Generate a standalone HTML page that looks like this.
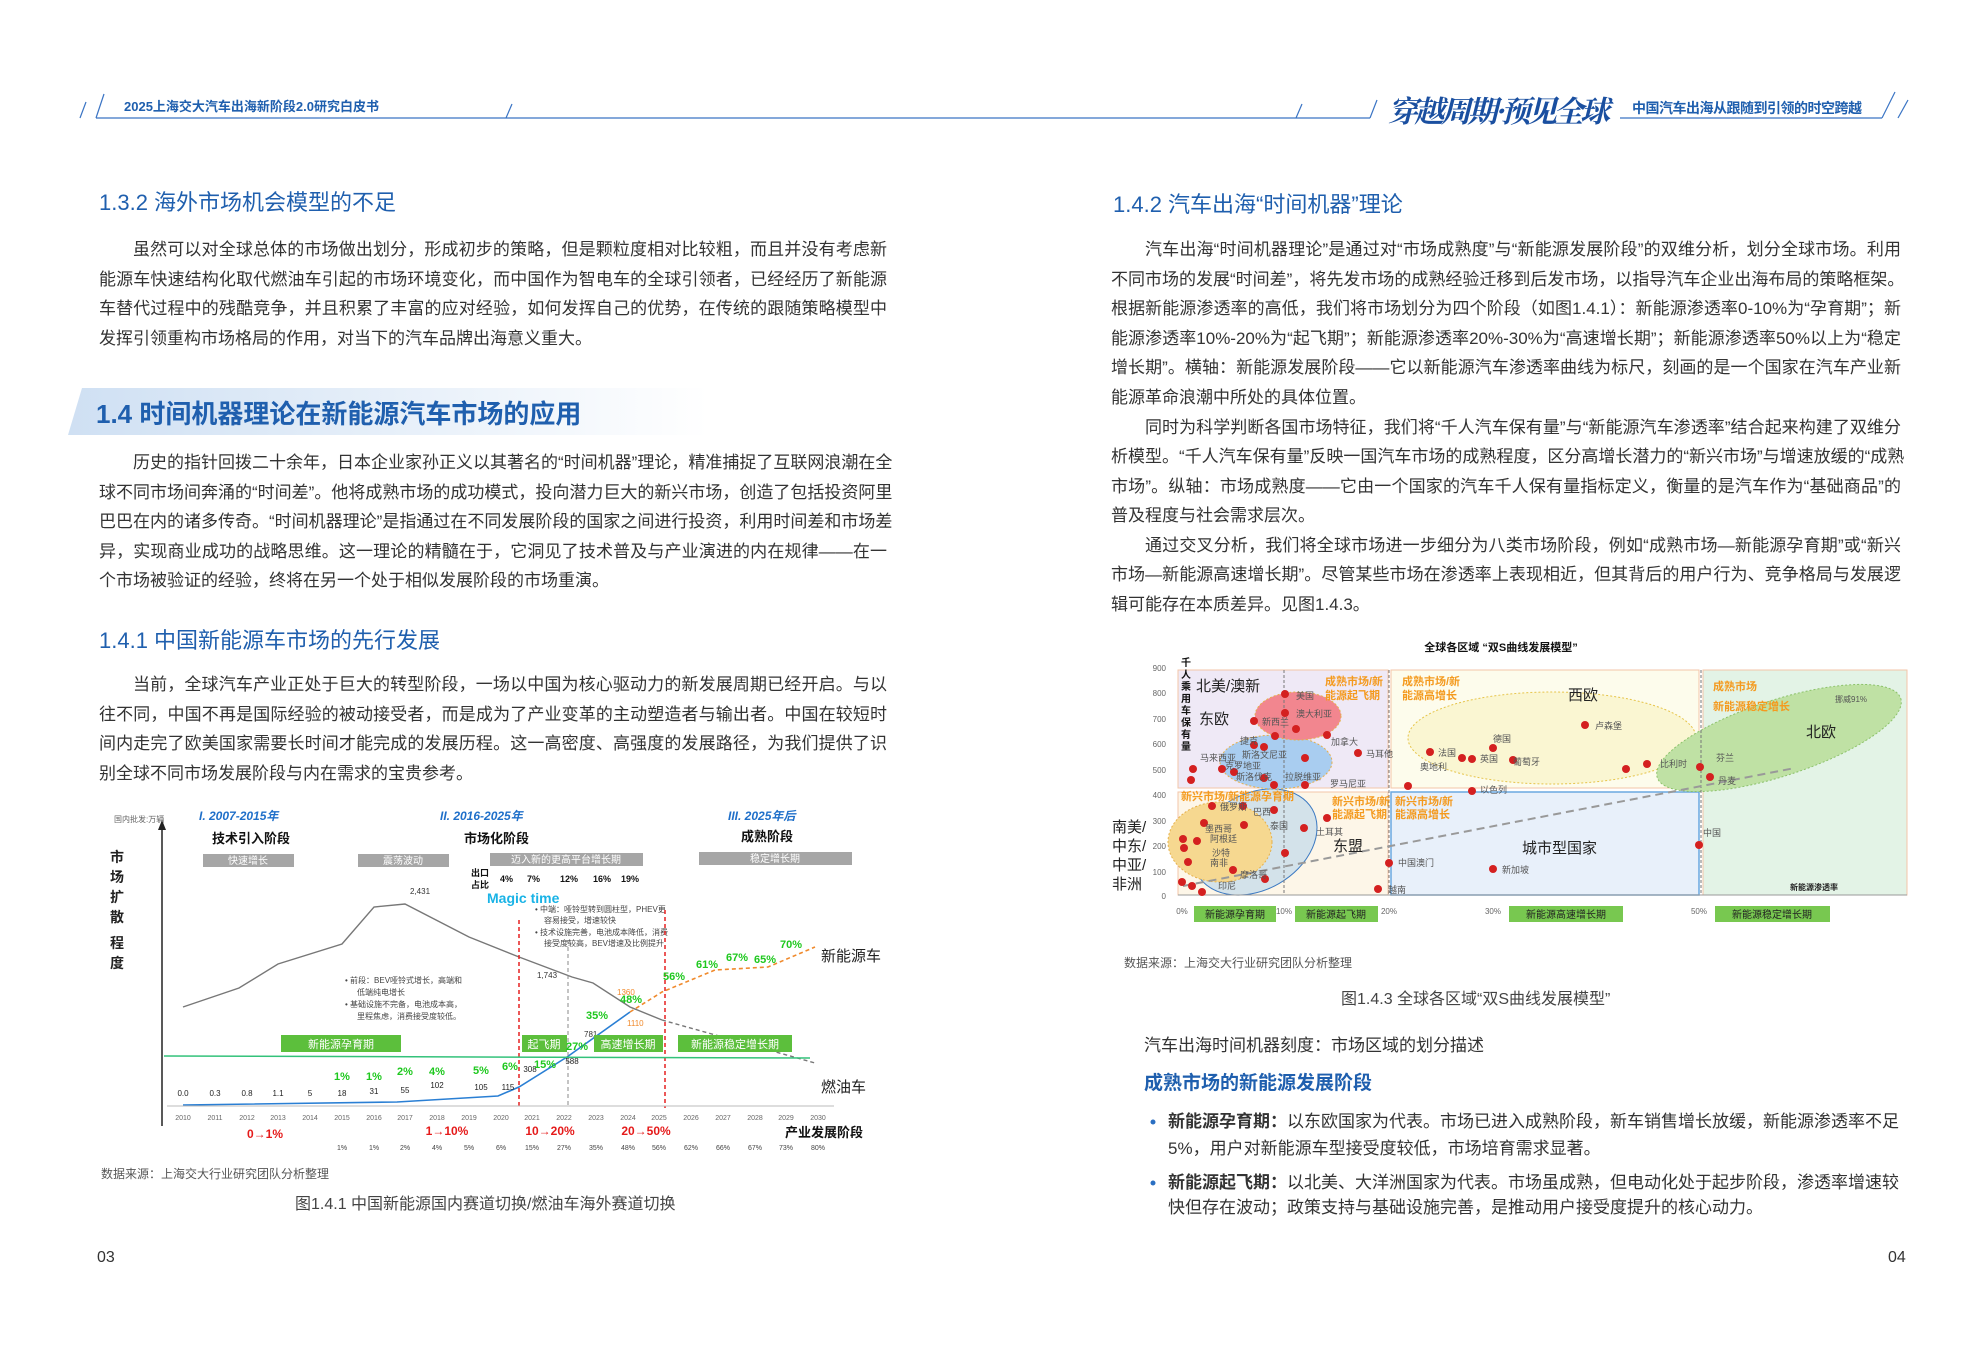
<!DOCTYPE html>
<html><head><meta charset="utf-8">
<style>
*{margin:0;padding:0;box-sizing:border-box}
body{width:1984px;height:1346px;background:#fff;position:relative;overflow:hidden;font-family:"Liberation Sans","Noto Sans CJK SC",sans-serif;color:#333}
.ln{position:absolute;white-space:nowrap;font-size:17px;line-height:24px;text-align:justify;text-align-last:justify;height:24px;overflow:visible}
.lf{width:788px;left:99px}
.rt{width:790px;left:1111px}
.last{text-align-last:left}
.ind{text-indent:34px}
.h2{position:absolute;color:#1f5fae;font-size:22px;line-height:28px;white-space:nowrap}
svg{position:absolute;left:0;top:0}
</style></head><body>

<div style="position:absolute;left:68px;top:388px;width:640px;height:47px;background:linear-gradient(90deg,#cfe0f3 0%,#e6eff9 50%,#ffffff 100%);clip-path:polygon(14px 0,100% 0,100% 100%,0 100%)"></div>

<svg width="1984" height="1346" viewBox="0 0 1984 1346" font-family="Liberation Sans, Noto Sans CJK SC, sans-serif">
<g stroke="#3a74c4" stroke-width="1.2" fill="none">
<line x1="80" y1="118" x2="86" y2="102"/><line x1="96" y1="118" x2="104" y2="94"/>
<line x1="96" y1="118" x2="1370" y2="118"/>
<line x1="506" y1="118" x2="512" y2="104"/>
<line x1="1296" y1="118" x2="1302" y2="104"/>
<line x1="1370" y1="118" x2="1377" y2="100"/>
<line x1="1620" y1="118" x2="1882" y2="118"/>
<line x1="1882" y1="118" x2="1895" y2="92"/><line x1="1898" y1="118" x2="1908" y2="100"/>
</g>
<text x="124" y="111" font-size="13" fill="#1f5fae" font-weight="bold">2025上海交大汽车出海新阶段2.0研究白皮书</text>
<text x="1388" y="122" font-size="30" fill="#1a4fa0" font-weight="bold" font-style="italic" font-family="Noto Serif CJK SC, serif" textLength="222">穿越周期·预见全球</text>
<text x="1632" y="113" font-size="14" fill="#1f5fae" font-weight="bold" textLength="230">中国汽车出海从跟随到引领的时空跨越</text>

<!-- LEFT CHART -->
<text x="114" y="822" font-size="8" fill="#666">国内批发:万辆</text>
<line x1="162" y1="825" x2="162" y2="1126" stroke="#222" stroke-width="1.5"/>
<path d="M158,830 L162,820 L166,830Z" fill="#222"/>
<g font-size="14" font-weight="bold" fill="#222">
<text x="110" y="862">市</text><text x="110" y="882">场</text><text x="110" y="902">扩</text><text x="110" y="922">散</text><text x="110" y="948">程</text><text x="110" y="968">度</text>
</g>
<g font-size="12" fill="#1f6fc9" font-style="italic" font-weight="bold">
<text x="199" y="820">I.  2007-2015年</text><text x="440" y="820">II.  2016-2025年</text><text x="728" y="820">III.  2025年后</text>
</g>
<g font-size="13" font-weight="bold" fill="#111">
<text x="212" y="843">技术引入阶段</text><text x="464" y="843">市场化阶段</text><text x="741" y="841">成熟阶段</text>
</g>
<g fill="#a6a6a6"><rect x="203" y="854" width="91" height="13"/><rect x="358" y="854" width="91" height="13"/><rect x="490" y="853" width="153" height="13"/><rect x="699" y="852" width="153" height="13"/></g>
<g font-size="10" fill="#fff" text-anchor="middle">
<text x="248" y="864">快速增长</text><text x="403" y="864">震荡波动</text><text x="566" y="863">迈入新的更高平台增长期</text><text x="775" y="862">稳定增长期</text>
</g>
<g font-size="9" fill="#111" font-weight="bold"><text x="471" y="876">出口</text><text x="471" y="888">占比</text>
<text x="500" y="882">4%</text><text x="527" y="882">7%</text><text x="560" y="882">12%</text><text x="593" y="882">16%</text><text x="621" y="882">19%</text></g>
<text x="487" y="903" font-size="14" fill="#19b3e6" font-weight="bold">Magic time</text>
<g font-size="8" fill="#444">
<text x="535" y="912">• 中端：哑铃型转到圆柱型，PHEV更</text><text x="544" y="923">容易接受，增速较快</text>
<text x="535" y="935">• 技术设施完善，电池成本降低，消费</text><text x="544" y="946">接受度较高，BEV增速及比例提升</text>
<text x="345" y="983">• 前段：BEV哑铃式增长，高端和</text><text x="357" y="995">低端纯电增长</text>
<text x="345" y="1007">• 基础设施不完备，电池成本高，</text><text x="357" y="1019">里程焦虑，消费接受度较低。</text>
</g>
<text x="410" y="894" font-size="8" fill="#333">2,431</text>
<text x="537" y="978" font-size="8" fill="#333">1,743</text>
<text x="584" y="1037" font-size="8" fill="#333">781</text>
<polyline points="183,1007 239,988 278,964 342,944 374,907 405,904 469,937 519,957 572,977 593,983 630,1007 662,1020" fill="none" stroke="#777" stroke-width="1.4"/>
<polyline points="662,1020 815,1063" fill="none" stroke="#777" stroke-width="1.4" stroke-dasharray="4,3"/>
<polyline points="183,1105 397,1102 498,1096 519,1087 567,1057 630,1012" fill="none" stroke="#2a7fd4" stroke-width="1.6"/>
<polyline points="630,1012 662,992 715,970 768,967 815,947" fill="none" stroke="#f08a2c" stroke-width="1.6" stroke-dasharray="4,3"/>
<g stroke="#e52020" stroke-width="1.5" stroke-dasharray="4,3"><line x1="519" y1="920" x2="519" y2="1108"/><line x1="665" y1="910" x2="665" y2="1108"/></g>
<line x1="568" y1="940" x2="568" y2="1108" stroke="#888" stroke-dasharray="4,3"/>
<line x1="164" y1="1056" x2="810" y2="1058" stroke="#33c27a" stroke-width="1.5"/>
<g fill="#5cbf3c"><rect x="281" y="1035" width="120" height="17"/><rect x="522" y="1035" width="45" height="17"/><rect x="594" y="1035" width="69" height="17"/><rect x="678" y="1035" width="114" height="17"/></g>
<g font-size="11" fill="#fff" text-anchor="middle">
<text x="341" y="1048">新能源孕育期</text><text x="544" y="1048">起飞期</text><text x="628" y="1048">高速增长期</text><text x="735" y="1048">新能源稳定增长期</text>
</g>
<text x="821" y="961" font-size="15" fill="#222">新能源车</text>
<text x="821" y="1092" font-size="15" fill="#222">燃油车</text>
<text x="617" y="995" font-size="8" fill="#f08a2c">1360</text>
<text x="627" y="1026" font-size="8" fill="#f08a2c">1110</text>
<line x1="167" y1="1106" x2="834" y2="1106" stroke="#bbb"/>
<g font-size="7" fill="#666" text-anchor="middle">
<text x="183" y="1120">2010</text><text x="215" y="1120">2011</text><text x="247" y="1120">2012</text><text x="278" y="1120">2013</text><text x="310" y="1120">2014</text><text x="342" y="1120">2015</text><text x="374" y="1120">2016</text><text x="405" y="1120">2017</text><text x="437" y="1120">2018</text><text x="469" y="1120">2019</text><text x="501" y="1120">2020</text><text x="532" y="1120">2021</text><text x="564" y="1120">2022</text><text x="596" y="1120">2023</text><text x="628" y="1120">2024</text><text x="659" y="1120">2025</text><text x="691" y="1120">2026</text><text x="723" y="1120">2027</text><text x="755" y="1120">2028</text><text x="786" y="1120">2029</text><text x="818" y="1120">2030</text>
</g>
<g font-size="8" fill="#222" text-anchor="middle">
<text x="183" y="1096">0.0</text><text x="215" y="1096">0.3</text><text x="247" y="1096">0.8</text><text x="278" y="1096">1.1</text><text x="310" y="1096">5</text><text x="342" y="1096">18</text><text x="374" y="1094">31</text><text x="405" y="1093">55</text><text x="437" y="1088">102</text><text x="481" y="1090">105</text><text x="508" y="1090">115</text><text x="530" y="1072">308</text><text x="572" y="1064">588</text>
</g>
<g font-size="11" fill="#1ec81e" font-weight="bold" text-anchor="middle">
<text x="342" y="1080">1%</text><text x="374" y="1080">1%</text><text x="405" y="1075">2%</text><text x="437" y="1075">4%</text><text x="481" y="1074">5%</text><text x="510" y="1070">6%</text><text x="545" y="1068">15%</text><text x="577" y="1050">27%</text><text x="597" y="1019">35%</text><text x="631" y="1003">48%</text><text x="674" y="980">56%</text><text x="707" y="968">61%</text><text x="737" y="961">67%</text><text x="765" y="963">65%</text><text x="791" y="948">70%</text>
</g>
<g font-size="12" fill="#e51a1a" font-weight="bold" text-anchor="middle">
<text x="265" y="1138">0→1%</text><text x="447" y="1135">1→10%</text><text x="550" y="1135">10→20%</text><text x="646" y="1135">20→50%</text>
</g>
<text x="785" y="1137" font-size="13" font-weight="bold" fill="#111">产业发展阶段</text>
<g font-size="7" fill="#444" text-anchor="middle">
<text x="342" y="1150">1%</text><text x="374" y="1150">1%</text><text x="405" y="1150">2%</text><text x="437" y="1150">4%</text><text x="469" y="1150">5%</text><text x="501" y="1150">6%</text><text x="532" y="1150">15%</text><text x="564" y="1150">27%</text><text x="596" y="1150">35%</text><text x="628" y="1150">48%</text><text x="659" y="1150">56%</text><text x="691" y="1150">62%</text><text x="723" y="1150">66%</text><text x="755" y="1150">67%</text><text x="786" y="1150">73%</text><text x="818" y="1150">80%</text>
</g>
<text x="101" y="1178" font-size="12" fill="#555">数据来源：上海交大行业研究团队分析整理</text>
<text x="295" y="1209" font-size="16" fill="#444">图1.4.1 中国新能源国内赛道切换/燃油车海外赛道切换</text>

<!-- RIGHT CHART -->
<text x="1501" y="651" font-size="11" font-weight="bold" fill="#111" text-anchor="middle">全球各区域 “双S曲线发展模型”</text>
<rect x="1178" y="670" width="210" height="118" fill="#efe9f6" stroke="#f3c6a8"/>
<rect x="1391" y="670" width="308" height="118" fill="#fdfcec" stroke="#f3c6a8"/>
<rect x="1703" y="670" width="204" height="225" fill="#e3f3e6" stroke="#f3c6a8"/>
<rect x="1178" y="792" width="210" height="103" fill="#fdf6e8" stroke="#f3c6a8"/>
<rect x="1391" y="792" width="308" height="103" fill="#e8f0fa" stroke="#6aa8e0" stroke-width="1.5"/>
<ellipse cx="1552" cy="738" rx="144" ry="46" fill="#faf6d2" stroke="#e6c44a" stroke-dasharray="2,2"/>
<ellipse cx="1779" cy="738" rx="128" ry="38" transform="rotate(-18 1779 738)" fill="#bfe1a4" stroke="#8cc26a" stroke-dasharray="2,2"/>
<ellipse cx="1255" cy="842" rx="66" ry="48" transform="rotate(-30 1255 842)" fill="#d3e2ea" stroke="#3b79c2"/>
<ellipse cx="1220" cy="842" rx="52" ry="40" fill="#f6d890" stroke="#e6b04a" stroke-dasharray="2,2"/>
<ellipse cx="1276" cy="762" rx="56" ry="27" fill="#a9cdf0" stroke="#e6b04a" stroke-dasharray="2,2"/>
<ellipse cx="1298" cy="716" rx="43" ry="24" fill="#f2868f" stroke="#e6b04a" stroke-dasharray="2,2"/>
<line x1="1284" y1="670" x2="1284" y2="895" stroke="#777" stroke-dasharray="3,2"/>
<line x1="1389" y1="670" x2="1389" y2="895" stroke="#777" stroke-dasharray="3,2"/>
<line x1="1701" y1="670" x2="1701" y2="895" stroke="#777" stroke-dasharray="3,2"/>
<line x1="1183" y1="886" x2="1795" y2="768" stroke="#999" stroke-width="2" stroke-dasharray="8,5"/>
<line x1="1178" y1="895" x2="1907" y2="895" stroke="#999"/>
<g font-size="8" fill="#666" text-anchor="end">
<text x="1166" y="671">900</text><text x="1166" y="696">800</text><text x="1166" y="722">700</text><text x="1166" y="747">600</text><text x="1166" y="773">500</text><text x="1166" y="798">400</text><text x="1166" y="824">300</text><text x="1166" y="849">200</text><text x="1166" y="875">100</text><text x="1166" y="899">0</text>
</g>
<g font-size="10" font-weight="bold" fill="#111"><text x="1181" y="666">千</text><text x="1181" y="678">人</text><text x="1181" y="690">乘</text><text x="1181" y="702">用</text><text x="1181" y="714">车</text><text x="1181" y="726">保</text><text x="1181" y="738">有</text><text x="1181" y="750">量</text></g>
<g font-size="15" fill="#222"><text x="1112" y="832">南美/</text><text x="1112" y="851">中东/</text><text x="1112" y="870">中亚/</text><text x="1112" y="889">非洲</text></g>
<g font-size="8" fill="#666" text-anchor="middle"><text x="1182" y="914">0%</text><text x="1284" y="914">10%</text><text x="1389" y="914">20%</text><text x="1493" y="914">30%</text><text x="1699" y="914">50%</text></g>
<g fill="#78c850"><rect x="1194" y="906" width="82" height="16"/><rect x="1295" y="906" width="83" height="16"/><rect x="1509" y="906" width="114" height="16"/><rect x="1715" y="906" width="115" height="16"/></g>
<g font-size="10" fill="#222" text-anchor="middle"><text x="1235" y="918">新能源孕育期</text><text x="1336" y="918">新能源起飞期</text><text x="1566" y="918">新能源高速增长期</text><text x="1772" y="918">新能源稳定增长期</text></g>
<g font-size="15" fill="#222"><text x="1196" y="691">北美/澳新</text><text x="1199" y="724">东欧</text><text x="1568" y="700">西欧</text><text x="1806" y="737">北欧</text><text x="1333" y="851">东盟</text><text x="1522" y="853">城市型国家</text></g>
<g font-size="11" fill="#f49a1e" font-weight="bold">
<text x="1325" y="685">成熟市场/新</text><text x="1325" y="699">能源起飞期</text>
<text x="1402" y="685">成熟市场/新</text><text x="1402" y="699">能源高增长</text>
<text x="1713" y="690">成熟市场</text><text x="1713" y="710">新能源稳定增长</text>
<text x="1181" y="800">新兴市场/新能源孕育期</text>
<text x="1332" y="805">新兴市场/新</text><text x="1332" y="818">能源起飞期</text>
<text x="1395" y="805">新兴市场/新</text><text x="1395" y="818">能源高增长</text>
</g>
<g fill="#d42020">
<circle cx="1285" cy="694" r="4"/><circle cx="1285" cy="713" r="4"/><circle cx="1254" cy="721" r="4"/><circle cx="1296" cy="729" r="4"/><circle cx="1327" cy="735" r="4"/><circle cx="1358" cy="753" r="4"/><circle cx="1275" cy="736" r="4"/><circle cx="1254" cy="745" r="4"/><circle cx="1264" cy="747" r="4"/><circle cx="1305" cy="758" r="4"/><circle cx="1193" cy="769" r="4"/><circle cx="1222" cy="769" r="4"/><circle cx="1234" cy="772" r="4"/><circle cx="1191" cy="780" r="4"/><circle cx="1264" cy="778" r="4"/><circle cx="1274" cy="785" r="4"/><circle cx="1305" cy="785" r="4"/><circle cx="1408" cy="786" r="4"/><circle cx="1472" cy="791" r="4"/>
<circle cx="1430" cy="752" r="4"/><circle cx="1462" cy="758" r="4"/><circle cx="1472" cy="759" r="4"/><circle cx="1493" cy="748" r="4"/><circle cx="1513" cy="760" r="4"/><circle cx="1585" cy="725" r="4"/><circle cx="1626" cy="769" r="4"/><circle cx="1647" cy="764" r="4"/><circle cx="1700" cy="767" r="4"/><circle cx="1710" cy="777" r="4"/>
<circle cx="1212" cy="806" r="4"/><circle cx="1243" cy="806" r="4"/><circle cx="1274" cy="810" r="4"/><circle cx="1327" cy="818" r="4"/><circle cx="1304" cy="828" r="4"/><circle cx="1204" cy="823" r="4"/><circle cx="1244" cy="825" r="4"/><circle cx="1183" cy="839" r="4"/><circle cx="1197" cy="841" r="4"/><circle cx="1184" cy="848" r="4"/><circle cx="1188" cy="862" r="4"/><circle cx="1233" cy="870" r="4"/><circle cx="1265" cy="879" r="4"/><circle cx="1182" cy="882" r="4"/><circle cx="1192" cy="886" r="4"/><circle cx="1202" cy="892" r="4"/><circle cx="1285" cy="853" r="4"/><circle cx="1378" cy="889" r="4"/><circle cx="1389" cy="863" r="4"/><circle cx="1493" cy="869" r="4"/><circle cx="1699" cy="845" r="4"/>
</g>
<g font-size="9" fill="#555">
<text x="1296" y="699">美国</text><text x="1296" y="717">澳大利亚</text><text x="1262" y="725">新西兰</text><text x="1331" y="745">加拿大</text><text x="1366" y="757">马耳他</text><text x="1240" y="744">捷克</text><text x="1242" y="758">斯洛文尼亚</text><text x="1200" y="761">马来西亚</text><text x="1225" y="769">克罗地亚</text><text x="1236" y="780">斯洛伐克</text><text x="1285" y="780">拉脱维亚</text><text x="1330" y="787">罗马尼亚</text>
<text x="1438" y="756">法国</text><text x="1480" y="762">英国</text><text x="1493" y="742">德国</text><text x="1513" y="765">葡萄牙</text><text x="1595" y="729">卢森堡</text><text x="1420" y="770">奥地利</text><text x="1660" y="767">比利时</text><text x="1716" y="761">芬兰</text><text x="1718" y="784">丹麦</text><text x="1835" y="702" font-size="8">挪威91%</text><text x="1480" y="793">以色列</text>
<text x="1220" y="810">俄罗斯</text><text x="1253" y="815">巴西</text><text x="1270" y="829">泰国</text><text x="1316" y="835">土耳其</text><text x="1205" y="832">墨西哥</text><text x="1210" y="842">阿根廷</text><text x="1212" y="856">沙特</text><text x="1210" y="866">南非</text><text x="1240" y="878">摩洛哥</text><text x="1218" y="889">印尼</text><text x="1398" y="866">中国澳门</text><text x="1502" y="873">新加坡</text><text x="1703" y="836">中国</text><text x="1388" y="893">越南</text>
</g>
<text x="1790" y="890" font-size="8" font-weight="bold" fill="#222">新能源渗透率</text>
<text x="1124" y="967" font-size="12" fill="#555">数据来源：上海交大行业研究团队分析整理</text>
<text x="1341" y="1004" font-size="16" fill="#444">图1.4.3  全球各区域“双S曲线发展模型”</text>
<circle cx="1153" cy="1122" r="2.5" fill="#2a6fc2"/>
<circle cx="1153" cy="1183" r="2.5" fill="#2a6fc2"/>
</svg>

<div class="h2" style="left:99px;top:189px">1.3.2 海外市场机会模型的不足</div>
<div class="h2" style="left:96px;top:399px;font-size:26px;font-weight:bold;line-height:30px">1.4 时间机器理论在新能源汽车市场的应用</div>
<div class="h2" style="left:99px;top:627px">1.4.1 中国新能源车市场的先行发展</div>
<div class="h2" style="left:1113px;top:191px">1.4.2 汽车出海“时间机器”理论</div>

<div class="ln lf ind" style="top:238px">虽然可以对全球总体的市场做出划分，形成初步的策略，但是颗粒度相对比较粗，而且并没有考虑新</div>
<div class="ln lf" style="top:268px">能源车快速结构化取代燃油车引起的市场环境变化，而中国作为智电车的全球引领者，已经经历了新能源</div>
<div class="ln lf" style="top:297px">车替代过程中的残酷竞争，并且积累了丰富的应对经验，如何发挥自己的优势，在传统的跟随策略模型中</div>
<div class="ln lf last" style="top:327px">发挥引领重构市场格局的作用，对当下的汽车品牌出海意义重大。</div>

<div class="ln lf ind" style="top:451px">历史的指针回拨二十余年，日本企业家孙正义以其著名的“时间机器”理论，精准捕捉了互联网浪潮在全</div>
<div class="ln lf" style="top:481px">球不同市场间奔涌的“时间差”。他将成熟市场的成功模式，投向潜力巨大的新兴市场，创造了包括投资阿里</div>
<div class="ln lf" style="top:510px">巴巴在内的诸多传奇。“时间机器理论”是指通过在不同发展阶段的国家之间进行投资，利用时间差和市场差</div>
<div class="ln lf" style="top:540px">异，实现商业成功的战略思维。这一理论的精髓在于，它洞见了技术普及与产业演进的内在规律——在一</div>
<div class="ln lf last" style="top:569px">个市场被验证的经验，终将在另一个处于相似发展阶段的市场重演。</div>

<div class="ln lf ind" style="top:673px">当前，全球汽车产业正处于巨大的转型阶段，一场以中国为核心驱动力的新发展周期已经开启。与以</div>
<div class="ln lf" style="top:703px">往不同，中国不再是国际经验的被动接受者，而是成为了产业变革的主动塑造者与输出者。中国在较短时</div>
<div class="ln lf" style="top:732px">间内走完了欧美国家需要长时间才能完成的发展历程。这一高密度、高强度的发展路径，为我们提供了识</div>
<div class="ln lf last" style="top:762px">别全球不同市场发展阶段与内在需求的宝贵参考。</div>

<div class="ln rt ind" style="top:238px">汽车出海“时间机器理论”是通过对“市场成熟度”与“新能源发展阶段”的双维分析，划分全球市场。利用</div>
<div class="ln rt" style="top:268px">不同市场的发展“时间差”，将先发市场的成熟经验迁移到后发市场，以指导汽车企业出海布局的策略框架。</div>
<div class="ln rt" style="top:297px">根据新能源渗透率的高低，我们将市场划分为四个阶段（如图1.4.1）：新能源渗透率0-10%为“孕育期”；新</div>
<div class="ln rt" style="top:327px">能源渗透率10%-20%为“起飞期”；新能源渗透率20%-30%为“高速增长期”；新能源渗透率50%以上为“稳定</div>
<div class="ln rt" style="top:356px">增长期”。横轴：新能源发展阶段——它以新能源汽车渗透率曲线为标尺，刻画的是一个国家在汽车产业新</div>
<div class="ln rt last" style="top:386px">能源革命浪潮中所处的具体位置。</div>
<div class="ln rt ind" style="top:416px">同时为科学判断各国市场特征，我们将“千人汽车保有量”与“新能源汽车渗透率”结合起来构建了双维分</div>
<div class="ln rt" style="top:445px">析模型。“千人汽车保有量”反映一国汽车市场的成熟程度，区分高增长潜力的“新兴市场”与增速放缓的“成熟</div>
<div class="ln rt" style="top:475px">市场”。纵轴：市场成熟度——它由一个国家的汽车千人保有量指标定义，衡量的是汽车作为“基础商品”的</div>
<div class="ln rt last" style="top:504px">普及程度与社会需求层次。</div>
<div class="ln rt ind" style="top:534px">通过交叉分析，我们将全球市场进一步细分为八类市场阶段，例如“成熟市场—新能源孕育期”或“新兴</div>
<div class="ln rt" style="top:563px">市场—新能源高速增长期”。尽管某些市场在渗透率上表现相近，但其背后的用户行为、竞争格局与发展逻</div>
<div class="ln rt last" style="top:593px">辑可能存在本质差异。见图1.4.3。</div>

<div class="ln last" style="left:1144px;top:1034px">汽车出海时间机器刻度：市场区域的划分描述</div>
<div class="h2" style="left:1144px;top:1070px;font-size:19px;font-weight:bold">成熟市场的新能源发展阶段</div>
<div class="ln" style="left:1168px;width:731px;top:1110px"><b>新能源孕育期：</b>以东欧国家为代表。市场已进入成熟阶段，新车销售增长放缓，新能源渗透率不足</div>
<div class="ln last" style="left:1168px;width:731px;top:1137px">5%，用户对新能源车型接受度较低，市场培育需求显著。</div>
<div class="ln" style="left:1168px;width:731px;top:1171px"><b>新能源起飞期：</b>以北美、大洋洲国家为代表。市场虽成熟，但电动化处于起步阶段，渗透率增速较</div>
<div class="ln last" style="left:1168px;width:731px;top:1196px">快但存在波动；政策支持与基础设施完善，是推动用户接受度提升的核心动力。</div>

<div class="ln last" style="left:97px;top:1246px;font-size:16px">03</div>
<div class="ln last" style="left:1888px;top:1246px;font-size:16px">04</div>
</body></html>
